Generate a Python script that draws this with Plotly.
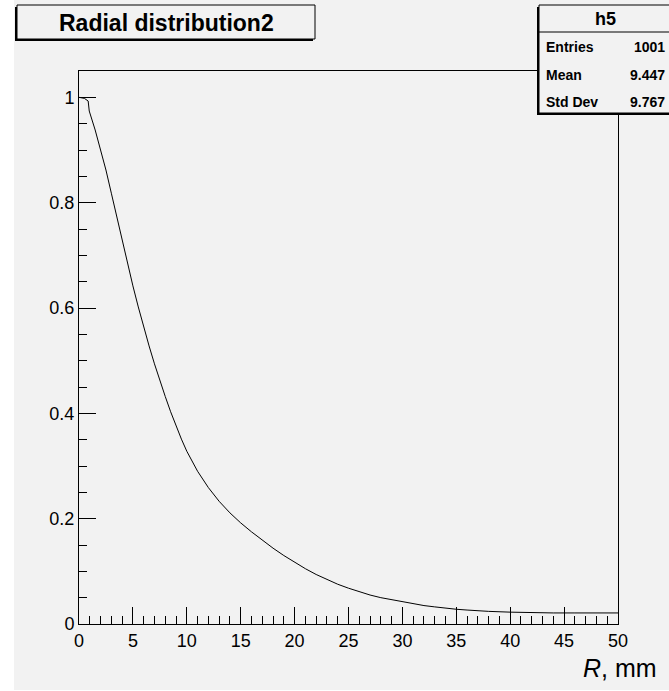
import plotly.graph_objects as go

# Radial profile h5 (normalised), R in mm
radius_mm = [0, 0.5, 0.85, 0.95, 1.5, 2.0, 2.5, 3.0, 3.5, 4.0, 4.5, 5.0, 5.5, 6.0,
             6.5, 7.0, 7.5, 8.0, 8.5, 9.0, 9.5, 10, 11, 12, 13, 14, 15, 16, 17, 18,
             19, 20, 21, 22, 23, 24, 25, 26, 27, 28, 29, 30, 31, 32, 33, 34, 35,
             36, 37, 38, 40, 42, 44, 46, 48, 50]
intensity = [1.000, 0.998, 0.993, 0.974, 0.938, 0.902, 0.862, 0.818, 0.773, 0.728,
             0.684, 0.642, 0.602, 0.564, 0.528, 0.494, 0.462, 0.432, 0.403, 0.376,
             0.351, 0.328, 0.290, 0.259, 0.233, 0.211, 0.192, 0.175, 0.159, 0.144,
             0.130, 0.117, 0.105, 0.094, 0.084, 0.0755, 0.068, 0.061, 0.055, 0.050,
             0.046, 0.042, 0.038, 0.035, 0.0325, 0.030, 0.028, 0.0265, 0.025, 0.024,
             0.0225, 0.0215, 0.021, 0.021, 0.021, 0.021]

hist_name = "h5"
title_text = "Radial distribution2"
stats_labels = ["Entries", "Mean", "Std Dev"]
stats_values = ["1001", "9.447", "9.767"]
x_ticks = [0, 5, 10, 15, 20, 25, 30, 35, 40, 45, 50]
y_ticks = [0, 0.2, 0.4, 0.6, 0.8, 1.0]
y_tick_text = ["0", "0.2", "0.4", "0.6", "0.8", "1"]

W, H = 669, 691
ML, MR, MT, MB = 79, 51, 71, 67
PW, PH = W - ML - MR, H - MT - MB
BG = "#f2f2f2"
FONT = "Liberation Sans, Arial, Helvetica, sans-serif"


def px(x):
    return (x - ML) / PW


def py(y):
    return (H - MB - y) / PH


fig = go.Figure()
fig.add_trace(go.Scatter(
    x=radius_mm, y=intensity, mode="lines",
    line=dict(color="black", width=1),
    hoverinfo="x+y", showlegend=False,
))

shapes = []
# white strip at the left/bottom edge of the canvas
shapes.append(dict(type="rect", xref="paper", yref="paper",
                   x0=px(-5), x1=px(14), y0=py(-5), y1=py(H + 5),
                   fillcolor="white", line=dict(width=0), layer="below"))
shapes.append(dict(type="rect", xref="paper", yref="paper",
                   x0=px(-5), x1=px(W + 5), y0=py(690), y1=py(H + 5),
                   fillcolor="white", line=dict(width=0), layer="below"))


def pave(x0, y0, x1, y1):
    # shadow band (left + bottom) then the box itself
    shapes.append(dict(type="rect", xref="paper", yref="paper",
                       x0=px(x0 - 2), x1=px(x1 - 2), y0=py(y1 + 2), y1=py(y0 + 2),
                       fillcolor="black", line=dict(width=0), layer="above"))
    shapes.append(dict(type="rect", xref="paper", yref="paper",
                       x0=px(x0), x1=px(x1), y0=py(y1), y1=py(y0),
                       fillcolor=BG, line=dict(color="black", width=1), layer="above"))


pave(17, 5, 315, 39)
pave(539, 5, 672, 113)
shapes.append(dict(type="line", xref="paper", yref="paper",
                   x0=px(539), x1=px(672), y0=py(32), y1=py(32),
                   line=dict(color="black", width=1), layer="above"))

annotations = [
    dict(text=f"<b>{title_text}</b>", x=px(166), y=py(23), xref="paper", yref="paper",
         xanchor="center", yanchor="middle", showarrow=False,
         font=dict(family=FONT, size=23, color="black")),
    dict(text=f"<b>{hist_name}</b>", x=px(605), y=py(19), xref="paper", yref="paper",
         xanchor="center", yanchor="middle", showarrow=False,
         font=dict(family=FONT, size=18, color="black")),
    dict(text="<i>R</i>, mm", x=px(659), y=py(668), xref="paper", yref="paper",
         xanchor="right", yanchor="middle", showarrow=False,
         font=dict(family=FONT, size=25, color="black")),
]
for i, (lab, val) in enumerate(zip(stats_labels, stats_values)):
    yy = 47 + i * 27.5
    annotations.append(dict(text=f"<b>{lab}</b>", x=px(544), y=py(yy), xref="paper",
                            yref="paper", xanchor="left", yanchor="middle",
                            showarrow=False, font=dict(family=FONT, size=14, color="black")))
    annotations.append(dict(text=f"<b>{val}</b>", x=px(667), y=py(yy), xref="paper",
                            yref="paper", xanchor="right", yanchor="middle",
                            showarrow=False, font=dict(family=FONT, size=14, color="black")))

axis_common = dict(
    ticks="inside", ticklen=17, tickwidth=1, tickcolor="black",
    showline=True, mirror=True, linecolor="black", linewidth=1,
    showgrid=False, zeroline=False,
    tickfont=dict(family=FONT, size=18, color="black"),
)

fig.update_layout(
    width=W, height=H,
    margin=dict(l=ML, r=MR, t=MT, b=MB, pad=0),
    paper_bgcolor=BG, plot_bgcolor=BG,
    shapes=shapes, annotations=annotations,
    xaxis=dict(range=[0, 50], tickvals=x_ticks,
               minor=dict(dtick=1, tick0=0, ticks="inside", ticklen=8,
                          tickcolor="black", tickwidth=1, showgrid=False),
               **axis_common),
    yaxis=dict(range=[0, 1.05], tickvals=y_ticks, ticktext=y_tick_text,
               minor=dict(dtick=0.05, tick0=0, ticks="inside", ticklen=8,
                          tickcolor="black", tickwidth=1, showgrid=False),
               **axis_common),
    showlegend=False,
)

fig.write_html("out.html")
